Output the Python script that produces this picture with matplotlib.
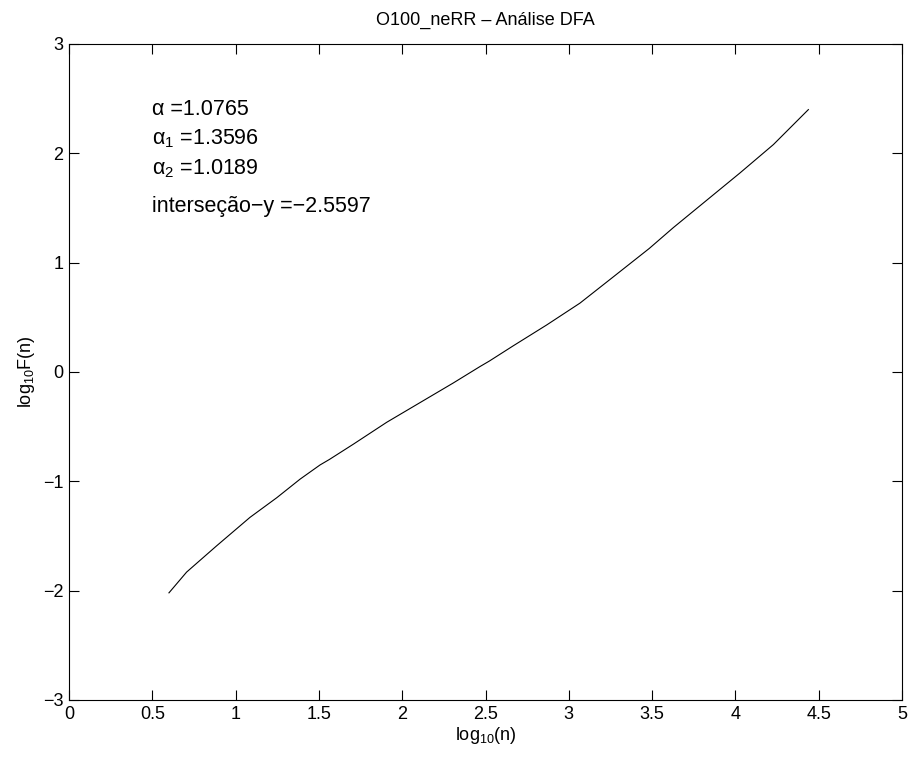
import matplotlib
matplotlib.use("Agg")
import matplotlib.pyplot as plt

plt.rcParams['font.family'] = ['Liberation Sans', 'DejaVu Sans']
plt.rcParams['mathtext.fontset'] = 'custom'
plt.rcParams['mathtext.rm'] = 'Liberation Sans'
plt.rcParams['mathtext.it'] = 'Liberation Sans:italic'
plt.rcParams['mathtext.bf'] = 'Liberation Sans:bold'

# data
log_n = [0.60, 0.706, 0.886, 1.086, 1.247, 1.387, 1.507, 1.563, 1.707, 1.907,
         2.107, 2.307, 2.467, 2.523, 2.667, 2.867, 3.067, 3.267, 3.483,
         3.627, 3.827, 4.027, 4.228, 4.438]
log_F = [-2.02, -1.83, -1.59, -1.33, -1.15, -0.98, -0.85, -0.80, -0.66, -0.46,
         -0.28, -0.10, 0.05, 0.10, 0.24, 0.43, 0.63, 0.87, 1.13,
         1.32, 1.57, 1.82, 2.08, 2.40]

annot_lines = ['α =1.0765', 'α$_1$ =1.3596', 'α$_2$ =1.0189', 'interseção−y =−2.5597']
annot_y = [2.40, 2.13, 1.86, 1.51]
annot_x = 0.5

xticks = [0, 0.5, 1, 1.5, 2, 2.5, 3, 3.5, 4, 4.5, 5]
xticklabels = ['0', '0.5', '1', '1.5', '2', '2.5', '3', '3.5', '4', '4.5', '5']
yticks = [-3, -2, -1, 0, 1, 2, 3]
yticklabels = ['−3', '−2', '−1', '0', '1', '2', '3']

fig = plt.figure(figsize=(9.11, 7.66), dpi=100)
ax = fig.add_axes([69/911, 1-700/766, (902-69)/911, (700-44)/766])
ax.plot(log_n, log_F, color='black', linewidth=0.8)

for s, yy in zip(annot_lines, annot_y):
    ax.text(annot_x, yy, s, fontsize=15.5, va='center', ha='left')

ax.set_xlim(0, 5)
ax.set_ylim(-3, 3)
ax.set_xticks(xticks)
ax.set_xticklabels(xticklabels)
ax.set_yticks(yticks)
ax.set_yticklabels(yticklabels)
ax.tick_params(direction='in', length=7, width=0.8, top=True, right=True,
               labelsize=13, pad=4)
for sp in ax.spines.values():
    sp.set_linewidth(0.8)

ax.set_title('O100_neRR – Análise DFA', fontsize=13, pad=14)
ax.set_xlabel('log$_{10}$(n)', fontsize=13, labelpad=2)
ax.set_ylabel('log$_{10}$F(n)', fontsize=13, labelpad=4)

fig.savefig('out.png', dpi=100)
